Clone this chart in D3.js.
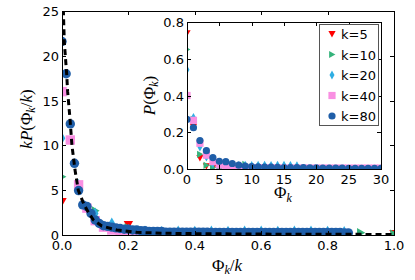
<!DOCTYPE html>
<html>
<head>
<meta charset="utf-8">
<script src="https://cdn.jsdelivr.net/npm/d3@7"></script>
<style>
  body { margin: 0; background: #fff; }
  text { font-family: "DejaVu Sans", sans-serif; }
  .math { font-family: "Liberation Serif", "DejaVu Serif", serif; }
</style>
</head>
<body>
<div id="container"></div>
<script>
/* DATA */
// P(Phi_k) for Phi_k = 0, 1, 2, ... per series
const kValues = [5, 10, 20, 40, 80];
const pK5 = [0.74, 0.23, 0.06, 0.015, 0.006, 0.03];
const pK10 = [0.65, 0.27, 0.08, 0.02, 0.008, 0.004, 0.003, 0.002, 0.002, 0.025, 0.01];
const pK20 = [0.54, 0.28, 0.12, 0.065, 0.028, 0.02, 0.018, 0.02, 0.019, 0.02, 0.019, 0.02,
  0.02, 0.019, 0.02, 0.02, 0.019, 0.018];
const pK40 = [0.40, 0.265, 0.14, 0.075, 0.04, 0.022, 0.014, 0.01, 0.009, 0.008, 0.007, 0.007,
  0.006, 0.006, 0.006, 0.005, 0.005, 0.005, 0.005, 0.005, 0.005, 0.005, 0.005, 0.005,
  0.005, 0.005, 0.005, 0.005, 0.005, 0.005, 0.005, 0.005, 0.005, 0.005, 0.004];
const pK80 = [0.27, 0.225, 0.155, 0.10, 0.062, 0.042, 0.040, 0.030, 0.021, 0.016,
  0.013, 0.012, 0.011, 0.010, 0.009, 0.008, 0.008, 0.007, 0.007, 0.006,
  0.006, 0.005, 0.005, 0.005, 0.005, 0.004, 0.004, 0.004, 0.004, 0.004,
  0.004, 0.004, 0.004, 0.004, 0.004, 0.004, 0.0035, 0.0035, 0.0035, 0.0035,
  0.0035, 0.0035, 0.0035, 0.0035, 0.0035, 0.0035, 0.0035, 0.0035, 0.0035, 0.0035,
  0.0035, 0.0035, 0.0035, 0.0035, 0.0035, 0.0035, 0.0035, 0.0035, 0.0035, 0.0035,
  0.0035, 0.0035, 0.0035, 0.0035, 0.0035, 0.0035, 0.0035, 0.0035, 0.003, 0.003];
const seriesP = [pK5, pK10, pK20, pK40, pK80];
const seriesLabels = ["k=5", "k=10", "k=20", "k=40", "k=80"];
const seriesColors = ["#ff0000", "#35b37b", "#2faee3", "#f98fe2", "#1f5ea8"];
const seriesShapes = ["tridown", "triright", "diamond", "square", "circle"];

// dashed reference curve in main panel
const curveX = [0.004, 0.007, 0.014, 0.017, 0.024, 0.03, 0.039, 0.049, 0.063, 0.075, 0.094,
  0.12, 0.165, 0.225, 0.3, 0.4, 0.6, 0.8, 1.0];
const curveY = [25.2, 21.5, 18, 16, 13, 10, 7.3, 5, 3.7, 2.8, 1.7, 1.0, 0.56, 0.3, 0.2, 0.15,
  0.1, 0.08, 0.06];

const mainXTicks = [0, 0.2, 0.4, 0.6, 0.8, 1.0];
const mainYTicks = [0, 5, 10, 15, 20, 25];
const insetXTicks = [0, 5, 10, 15, 20, 25, 30];
const insetYTicks = [0, 0.2, 0.4, 0.6, 0.8];

/* CONSTANTS */
const width = 415, height = 280;
const main = { left: 62, right: 394, top: 11, bottom: 235 };
const inset = { left: 187, right: 381, top: 22, bottom: 169 };

const svg = d3.select("#container").append("svg")
  .attr("width", width).attr("height", height);

const defs = svg.append("defs");
function clip(id, b) {
  defs.append("clipPath").attr("id", id).append("rect")
    .attr("x", b.left).attr("y", b.top)
    .attr("width", b.right - b.left).attr("height", b.bottom - b.top);
}
clip("clipMain", main);
clip("clipInset", inset);

function markerPath(shape, s) {
  if (shape === "circle") return d3.symbol(d3.symbolCircle, Math.PI * s * s)();
  if (shape === "square") return `M${-s},${-s}H${s}V${s}H${-s}Z`;
  if (shape === "diamond") return `M0,${-s * 1.25}L${s * 0.7},0L0,${s * 1.25}L${-s * 0.7},0Z`;
  if (shape === "tridown") return `M${-s},${-s * 0.8}L${s},${-s * 0.8}L0,${s * 0.95}Z`;
  if (shape === "triright") return `M${-s * 0.8},${-s}L${s * 0.95},0L${-s * 0.8},${s}Z`;
}

function frame(b, xScale, yScale, xTicks, yTicks, xFmt, yFmt) {
  const g = svg.append("g");
  g.append("rect")
    .attr("x", b.left + 0.5).attr("y", b.top + 0.5)
    .attr("width", b.right - b.left).attr("height", b.bottom - b.top)
    .attr("fill", "none").attr("stroke", "#000").attr("stroke-width", 1);
  // inward ticks on all four sides
  xTicks.forEach(t => {
    const x = Math.round(xScale(t)) + 0.5;
    g.append("line").attr("x1", x).attr("x2", x).attr("y1", b.bottom).attr("y2", b.bottom - 4).attr("stroke", "#000");
    g.append("line").attr("x1", x).attr("x2", x).attr("y1", b.top).attr("y2", b.top + 4).attr("stroke", "#000");
    g.append("text").attr("x", xScale(t)).attr("y", b.bottom + 15)
      .attr("text-anchor", "middle").attr("font-size", 13).text(xFmt(t));
  });
  yTicks.forEach(t => {
    const y = Math.round(yScale(t)) + 0.5;
    g.append("line").attr("x1", b.left).attr("x2", b.left + 4).attr("y1", y).attr("y2", y).attr("stroke", "#000");
    g.append("line").attr("x1", b.right).attr("x2", b.right - 4).attr("y1", y).attr("y2", y).attr("stroke", "#000");
    g.append("text").attr("x", b.left - 3).attr("y", yScale(t) + 5)
      .attr("text-anchor", "end").attr("font-size", 13).text(yFmt(t));
  });
}

/* MAIN PANEL */
const xMain = d3.scaleLinear().domain([0, 1]).range([main.left, main.right]);
const yMain = d3.scaleLinear().domain([0, 25]).range([main.bottom, main.top]);

svg.append("rect").attr("x", main.left).attr("y", main.top)
  .attr("width", main.right - main.left).attr("height", main.bottom - main.top).attr("fill", "#fff");

const mainG = svg.append("g").attr("clip-path", "url(#clipMain)");
seriesP.forEach((ps, i) => {
  const k = kValues[i];
  mainG.append("g").selectAll("path")
    .data(ps.map((p, phi) => ({ x: phi / k, y: k * p })))
    .join("path")
    .attr("transform", d => `translate(${xMain(d.x)},${yMain(d.y)})`)
    .attr("d", markerPath(seriesShapes[i], 4.7))
    .attr("fill", seriesColors[i]);
});

mainG.append("path")
  .datum(curveX.map((x, i) => [x, curveY[i]]))
  .attr("d", d3.line().x(d => xMain(d[0])).y(d => yMain(d[1])))
  .attr("fill", "none").attr("stroke", "#000")
  .attr("stroke-width", 3).attr("stroke-dasharray", "6,4");

frame(main, xMain, yMain, mainXTicks, mainYTicks, d3.format(".1f"), d3.format("d"));

// main axis labels
const xLab = svg.append("text").attr("class", "math")
  .attr("x", 227).attr("y", 271).attr("text-anchor", "middle").attr("font-size", 17);
xLab.append("tspan").text("Φ");
xLab.append("tspan").attr("font-style", "italic").attr("font-size", 12).attr("dy", 3).text("k");
xLab.append("tspan").attr("dy", -3).text("/");
xLab.append("tspan").attr("font-style", "italic").text("k");

const yLab = svg.append("text").attr("class", "math")
  .attr("transform", `translate(32,${(main.top + main.bottom) / 2 - 4}) rotate(-90)`)
  .attr("text-anchor", "middle").attr("font-size", 17);
yLab.append("tspan").attr("font-style", "italic").text("kP");
yLab.append("tspan").text("(Φ");
yLab.append("tspan").attr("font-style", "italic").attr("font-size", 12).attr("dy", 3).text("k");
yLab.append("tspan").attr("dy", -3).text("/");
yLab.append("tspan").attr("font-style", "italic").text("k");
yLab.append("tspan").text(")");

/* INSET */
const xIn = d3.scaleLinear().domain([0, 30]).range([inset.left, inset.right]);
const yIn = d3.scaleLinear().domain([0, 0.8]).range([inset.bottom, inset.top]);

svg.append("rect").attr("x", inset.left).attr("y", inset.top)
  .attr("width", inset.right - inset.left).attr("height", inset.bottom - inset.top).attr("fill", "#fff");

const inG = svg.append("g").attr("clip-path", "url(#clipInset)");
seriesP.forEach((ps, i) => {
  inG.append("g").selectAll("path")
    .data(ps.map((p, phi) => ({ x: phi, y: p })).filter(d => d.x <= 31))
    .join("path")
    .attr("transform", d => `translate(${xIn(d.x)},${yIn(d.y)})`)
    .attr("d", markerPath(seriesShapes[i], 3.6))
    .attr("fill", seriesColors[i]);
});

frame(inset, xIn, yIn, insetXTicks, insetYTicks, d3.format("d"), d3.format(".1f"));

const ixLab = svg.append("text").attr("class", "math")
  .attr("x", 283).attr("y", 198).attr("text-anchor", "middle").attr("font-size", 17);
ixLab.append("tspan").text("Φ");
ixLab.append("tspan").attr("font-style", "italic").attr("font-size", 12).attr("dy", 4).text("k");

const iyLab = svg.append("text").attr("class", "math")
  .attr("transform", `translate(155,${(inset.top + inset.bottom) / 2}) rotate(-90)`)
  .attr("text-anchor", "middle").attr("font-size", 17);
iyLab.append("tspan").attr("font-style", "italic").text("P");
iyLab.append("tspan").text("(Φ");
iyLab.append("tspan").attr("font-style", "italic").attr("font-size", 12).attr("dy", 3).text("k");
iyLab.append("tspan").attr("dy", -3).text(")");

/* LEGEND */
const leg = svg.append("g");
leg.append("rect").attr("x", 319.5).attr("y", 24.5).attr("width", 59).attr("height", 101)
  .attr("fill", "#fff").attr("stroke", "#555").attr("stroke-width", 1);
seriesLabels.forEach((lab, i) => {
  const y = 34 + i * 20.5;
  leg.append("path").attr("transform", `translate(332,${y})`)
    .attr("d", markerPath(seriesShapes[i], 3.6)).attr("fill", seriesColors[i]);
  leg.append("text").attr("x", 341).attr("y", y + 5).attr("font-size", 13).text(lab);
});
</script>
</body>
</html>
